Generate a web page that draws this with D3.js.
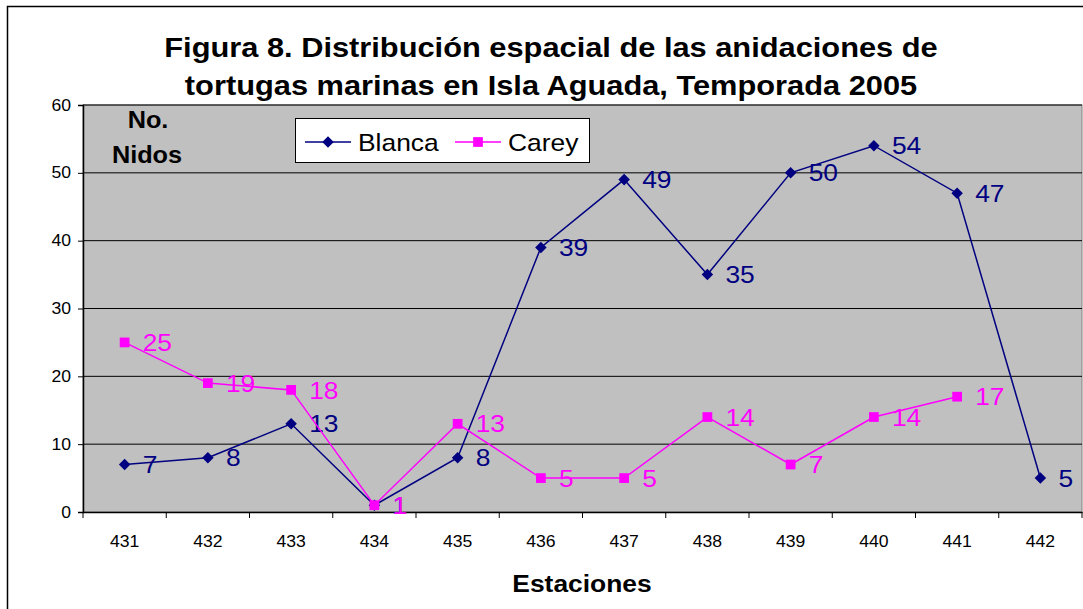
<!DOCTYPE html>
<html>
<head>
<meta charset="utf-8">
<script src="https://cdn.jsdelivr.net/npm/d3@7"></script>
<style>
  body { margin: 0; background: #fff; }
  text { font-family: Arial, "Liberation Sans", sans-serif; }
</style>
</head>
<body>
<div id="chart"></div>
<script>
// data
const estaciones = ["431", "432", "433", "434", "435", "436", "437", "438", "439", "440", "441", "442"];
const blanca = [7, 8, 13, 1, 8, 39, 49, 35, 50, 54, 47, 5];
const carey = [25, 19, 18, 1, 13, 5, 5, 14, 7, 14, 17, null];
const yTicks = [0, 10, 20, 30, 40, 50, 60];

const W = 1083, H = 609;
const margin = {top: 105, right: 1, bottom: 97, left: 83};
const width = W - margin.left - margin.right;
const height = H - margin.top - margin.bottom;
const SX = 1.1; // the original picture is a little wider than tall

const svg = d3.select("#chart").append("svg")
  .attr("width", W)
  .attr("height", H);

// place text at (px,py), stretched horizontally like the original
function label(sel, px, py) {
  return sel.attr("x", 0).attr("y", 0)
    .attr("transform", `translate(${px},${py}) scale(${SX},1)`);
}

// outer chart border
svg.append("rect")
  .attr("x", 7.5).attr("y", 6.5)
  .attr("width", W).attr("height", H)
  .attr("fill", "none")
  .attr("stroke", "#000")
  .attr("stroke-width", 1.5);

const x = d3.scaleBand().domain(estaciones).range([0, width]);
const y = d3.scaleLinear().domain([0, 60]).range([height, 0]);

const g = svg.append("g")
  .attr("transform", `translate(${margin.left},${margin.top})`);

g.append("rect")
  .attr("width", width).attr("height", height)
  .attr("fill", "#c0c0c0")
  .attr("stroke", "#808080");

// gridlines
g.selectAll(".grid").data(yTicks.slice(1))
  .join("line")
  .attr("x1", 0).attr("x2", width)
  .attr("y1", d => y(d)).attr("y2", d => y(d))
  .attr("stroke", "#000").attr("stroke-width", 1);

// axes
const yAxis = d3.axisLeft(y).tickValues(yTicks).tickSize(5).tickPadding(8);
const yG = g.append("g").call(yAxis);
yG.select(".domain").attr("stroke", "#000").attr("stroke-width", 1.5);
yG.selectAll("text").attr("font-size", 16).attr("fill", "#000")
  .attr("x", -12 / SX).attr("transform", `scale(${SX},1)`);

const xAxis = d3.axisBottom(x).tickSize(0).tickPadding(24);
const xG = g.append("g").attr("transform", `translate(0,${height})`).call(xAxis);
xG.select(".domain").attr("stroke", "#000").attr("stroke-width", 1.5);
xG.selectAll("text").attr("font-size", 16).attr("fill", "#000")
  .attr("transform", `scale(${SX},1)`);
// category separator ticks
xG.selectAll(".sep").data(d3.range(estaciones.length + 1))
  .join("line")
  .attr("x1", i => i * x.bandwidth()).attr("x2", i => i * x.bandwidth())
  .attr("y1", 0).attr("y2", 6)
  .attr("stroke", "#000");

const cx = i => x(estaciones[i]) + x.bandwidth() / 2;

function drawSeries(values, color, symbolType, size) {
  const pts = values.map((v, i) => ({v, i})).filter(d => d.v !== null);
  const line = d3.line()
    .x(d => cx(d.i))
    .y(d => y(d.v));
  g.append("path")
    .datum(pts)
    .attr("d", line)
    .attr("fill", "none")
    .attr("stroke", color)
    .attr("stroke-width", 1.5);
  g.selectAll(null).data(pts)
    .join("path")
    .attr("d", d3.symbol().type(symbolType).size(size))
    .attr("transform", d => `translate(${cx(d.i)},${y(d.v)})`)
    .attr("fill", color);
  g.selectAll(null).data(pts)
    .join("text")
    .attr("x", 0).attr("y", 0)
    .attr("transform", d => `translate(${cx(d.i) + 18},${y(d.v)}) scale(${SX},1)`)
    .attr("dy", "0.36em")
    .attr("font-size", 24)
    .attr("fill", color)
    .text(d => d.v);
}

drawSeries(blanca, "#000080", d3.symbolDiamond2, 85);
drawSeries(carey, "#ff00ff", d3.symbolSquare, 95);

// title
label(svg.append("text"), 551, 57)
  .attr("text-anchor", "middle").attr("font-size", 28).attr("font-weight", "bold")
  .text("Figura 8. Distribución espacial de las anidaciones de");
label(svg.append("text"), 551, 95)
  .attr("text-anchor", "middle").attr("font-size", 28).attr("font-weight", "bold")
  .text("tortugas marinas en Isla Aguada, Temporada 2005");

// y label inside plot
label(svg.append("text"), 148, 128).attr("text-anchor", "middle")
  .attr("font-size", 23).attr("font-weight", "bold").text("No.");
label(svg.append("text"), 147, 163).attr("text-anchor", "middle")
  .attr("font-size", 23).attr("font-weight", "bold").text("Nidos");

// x title
label(svg.append("text"), 582, 592).attr("text-anchor", "middle")
  .attr("font-size", 24).attr("font-weight", "bold").text("Estaciones");

// legend
const leg = svg.append("g").attr("transform", "translate(295,118)");
leg.append("rect").attr("x", 0.5).attr("y", 0.5).attr("width", 294).attr("height", 44)
  .attr("fill", "#fff").attr("stroke", "#000");
const legItems = [
  {name: "Blanca", color: "#000080", sym: d3.symbolDiamond2, size: 85, x0: 10},
  {name: "Carey", color: "#ff00ff", sym: d3.symbolSquare, size: 95, x0: 160}
];
legItems.forEach(it => {
  leg.append("line").attr("x1", it.x0).attr("x2", it.x0 + 46)
    .attr("y1", 24).attr("y2", 24).attr("stroke", it.color).attr("stroke-width", 1.5);
  leg.append("path").attr("d", d3.symbol().type(it.sym).size(it.size)())
    .attr("transform", `translate(${it.x0 + 23},24)`).attr("fill", it.color);
  label(leg.append("text"), it.x0 + 53, 24).attr("dy", "0.36em")
    .attr("font-size", 24).attr("fill", "#000").text(it.name);
});
</script>
</body>
</html>
